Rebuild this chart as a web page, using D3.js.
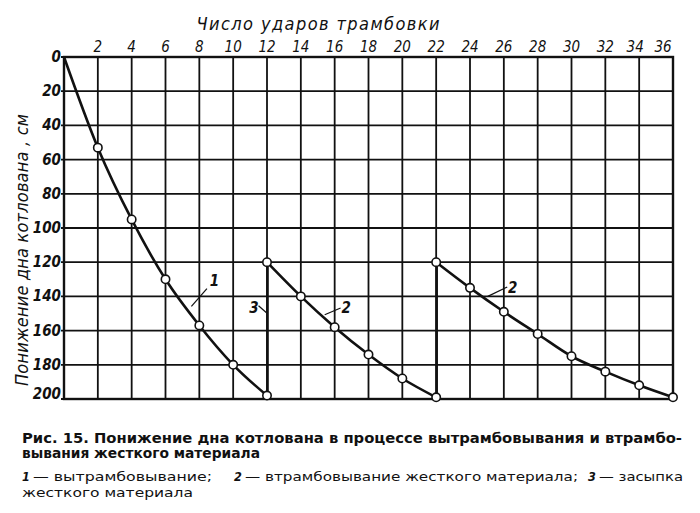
<!DOCTYPE html>
<html>
<head>
<meta charset="utf-8">
<script src="https://cdn.jsdelivr.net/npm/d3@7"></script>
<style>
  body { margin: 0; background: #fff; }
  svg { display: block; }
  text { fill: #111; }
</style>
</head>
<body>
<svg id="chart" width="700" height="513"></svg>
<script>
// tick values
const strikeTicks = d3.range(2, 37, 2);
const depthTicks = d3.range(0, 201, 20);

// curve 1 - вытрамбовывание
const strikes1 = [0, 2, 4, 6, 8, 10, 12];
const depth1 = [0, 53, 95, 130, 157, 180, 198];

// curve 2 - втрамбовывание, first and second run
const strikes2a = [12, 14, 16, 18, 20, 22];
const depth2a = [120, 140, 158, 174, 188, 199];
const strikes2b = [22, 24, 26, 28, 30, 32, 34, 36];
const depth2b = [120, 135, 149, 162, 175, 184, 192, 199];

// 3 - засыпка (vertical jumps)
const fillStrikes = [12, 22];
const fillFrom = [198, 199];
const fillTo = [120, 120];

// curve labels: text, anchor point, leader start
const labelText = ["1", "3", "2", "2"];
const labelX = [8.62, 10.95, 16.4, 26.25];
const labelY = [134, 149.5, 149.5, 138];
const leadFromX = [7.53, 12.02, 15.41, 25.05];
const leadFromY = [145.8, 150, 150.7, 140];
const leadToX = [8.45, 11.5, 16.35, 26.2];
const leadToY = [135.5, 145.5, 146.8, 134.5];

// caption
const captionHead = ["Рис. 15. Понижение дна котлована в процессе вытрамбовывания и втрамбо-",
                     "вывания жесткого материала"];
const legendNum = ["1", "2", "3"];
const legendText = ["вытрамбовывание;", "втрамбовывание  жесткого  материала;", "засыпка"];
const legendTail = "жесткого материала";

const svg = d3.select("#chart");
const x = d3.scaleLinear().domain([0, 36]).range([64, 673]);
const y = d3.scaleLinear().domain([0, 200]).range([57, 399]);

const ital = "'DejaVu Sans Condensed', 'DejaVu Sans', sans-serif";
const capFont = "'DejaVu Sans Condensed', 'Liberation Sans', sans-serif";

// grid
const grid = svg.append("g").attr("stroke", "#111").attr("stroke-width", 1.8);
grid.selectAll(".v").data(strikeTicks).enter().append("line")
  .attr("x1", d => x(d)).attr("x2", d => x(d))
  .attr("y1", y(0)).attr("y2", y(200));
grid.selectAll(".h").data(depthTicks).enter().append("line")
  .attr("x1", x(0) - 3).attr("x2", x(36))
  .attr("y1", d => y(d)).attr("y2", d => y(d));
svg.append("rect")
  .attr("x", x(0)).attr("y", y(0))
  .attr("width", x(36) - x(0)).attr("height", y(200) - y(0))
  .attr("fill", "none").attr("stroke", "#111").attr("stroke-width", 2.4);

// top tick labels
svg.append("g").selectAll("text").data(strikeTicks).enter().append("text")
  .attr("x", d => x(d) + (d == 36 ? -10 : d == 34 ? -4 : 0))
  .attr("y", 52)
  .attr("text-anchor", "middle")
  .attr("font-family", ital).attr("font-style", "italic")
  .attr("font-size", 15)
  .text(d => d);

// left tick labels
svg.append("g").selectAll("text").data(depthTicks).enter().append("text")
  .attr("x", 61)
  .attr("y", d => y(d) + (d == 200 ? 0 : 5))
  .attr("text-anchor", "end")
  .attr("font-family", ital).attr("font-style", "italic").attr("font-weight", "bold")
  .attr("font-size", 15)
  .text(d => d);

// axis titles
svg.append("text")
  .attr("x", 318).attr("y", 30)
  .attr("text-anchor", "middle")
  .attr("font-family", ital).attr("font-style", "italic")
  .attr("font-size", 18)
  .attr("textLength", 243)
  .text("Число ударов трамбовки");

svg.append("text")
  .attr("transform", "translate(28,250) rotate(-90)")
  .attr("text-anchor", "middle")
  .attr("font-family", ital).attr("font-style", "italic")
  .attr("font-size", 18)
  .attr("textLength", 272)
  .text("Понижение дна котлована , см");

// curves
const line = d3.line().x(d => x(d[0])).y(d => y(d[1])).curve(d3.curveMonotoneX);
const series = [
  d3.zip(strikes1, depth1),
  d3.zip(strikes2a, depth2a),
  d3.zip(strikes2b, depth2b)
];
svg.append("g").selectAll("path").data(series).enter().append("path")
  .attr("d", line)
  .attr("fill", "none").attr("stroke", "#111").attr("stroke-width", 2.6);

// backfill verticals
svg.append("g").selectAll("line").data(fillStrikes).enter().append("line")
  .attr("x1", d => x(d) + 0.5).attr("x2", d => x(d) + 0.5)
  .attr("y1", (d, i) => y(fillFrom[i])).attr("y2", (d, i) => y(fillTo[i]))
  .attr("stroke", "#111").attr("stroke-width", 2.6);

// markers
const pts = series[0].slice(1).concat(series[1], series[2]);
svg.append("g").selectAll("circle").data(pts).enter().append("circle")
  .attr("cx", d => x(d[0])).attr("cy", d => y(d[1]))
  .attr("r", 4.2)
  .attr("fill", "#fff").attr("stroke", "#111").attr("stroke-width", 1.6);

// curve labels
const lab = svg.append("g");
lab.selectAll("line").data(labelText).enter().append("line")
  .attr("x1", (d, i) => x(leadFromX[i])).attr("y1", (d, i) => y(leadFromY[i]))
  .attr("x2", (d, i) => x(leadToX[i])).attr("y2", (d, i) => y(leadToY[i]))
  .attr("stroke", "#111").attr("stroke-width", 1.2);
lab.selectAll("text").data(labelText).enter().append("text")
  .attr("x", (d, i) => x(labelX[i])).attr("y", (d, i) => y(labelY[i]))
  .attr("font-family", ital).attr("font-style", "italic").attr("font-weight", "bold")
  .attr("font-size", 15)
  .text(d => d);

// caption
const cap = svg.append("g").attr("font-family", capFont).attr("font-size", 13.5);
cap.append("text").attr("x", 22).attr("y", 443)
  .attr("font-weight", "bold")
  .attr("textLength", 660).attr("lengthAdjust", "spacingAndGlyphs")
  .text(captionHead[0]);
cap.append("text").attr("x", 22).attr("y", 458)
  .attr("font-weight", "bold")
  .attr("textLength", 238).attr("lengthAdjust", "spacingAndGlyphs")
  .text(captionHead[1]);

// legend line: number + dash + text, three pieces spread over the line
const legStart = [22, 234, 588];
const legEnd = [212, 578, 683];
const leg = svg.append("g").attr("font-family", capFont).attr("font-size", 12.5);
legendNum.forEach((n, i) => {
  leg.append("text").attr("x", legStart[i]).attr("y", 481)
    .attr("font-style", "italic").attr("font-weight", "bold")
    .text(n);
  leg.append("text").attr("x", legStart[i] + 11).attr("y", 481)
    .attr("textLength", legEnd[i] - legStart[i] - 11).attr("lengthAdjust", "spacingAndGlyphs")
    .text("— " + legendText[i]);
});
leg.append("text").attr("x", 22).attr("y", 497)
  .attr("textLength", 171).attr("lengthAdjust", "spacingAndGlyphs")
  .text(legendTail);
</script>
</body>
</html>
